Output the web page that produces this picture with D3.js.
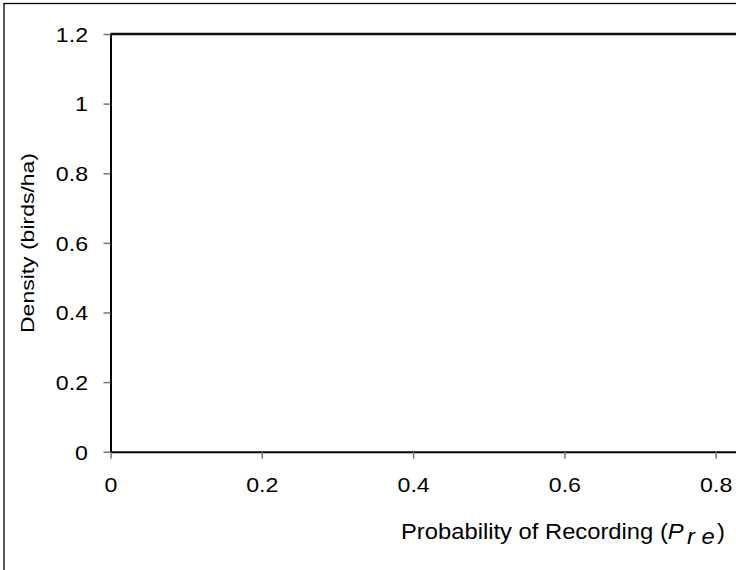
<!DOCTYPE html>
<html>
<head>
<meta charset="utf-8">
<script src="https://cdn.jsdelivr.net/npm/d3@7"></script>
<style>
  body { margin: 0; background: #fff; }
  text { font-family: "Liberation Sans", Arial, sans-serif; fill: #000; }
</style>
</head>
<body>
<div id="chart"></div>
<script>
// axis values (no plotted series are visible)
const xDomain = [0, 1];
const yDomain = [0, 1.2];
const xTicks = [0, 0.2, 0.4, 0.6, 0.8, 1];
const yTicks = [0, 0.2, 0.4, 0.6, 0.8, 1, 1.2];
const xTitle = "Probability of Recording (";
const yTitle = "Density (birds/ha)";

const W = 736, H = 570;
const margin = { top: 34, left: 110.5, bottom: 118.3 };
const height = H - margin.top - margin.bottom;
const width = 756.5;
const stretch = 1.13; // the reference text is drawn a bit wide

const svg = d3.select("#chart").append("svg")
    .attr("width", W)
    .attr("height", H);

// outer frame (right and bottom edges fall outside the picture)
svg.append("rect")
    .attr("x", 4).attr("y", 3.5)
    .attr("width", W + 20).attr("height", H + 20)
    .style("fill", "none")
    .style("stroke", "#000")
    .style("stroke-width", 1.3);

const g = svg.append("g")
    .attr("transform", "translate(" + margin.left + "," + margin.top + ")");

// scales
const x = d3.scaleLinear().domain(xDomain).range([0, width]);
const y = d3.scaleLinear().domain(yDomain).range([height, 0]);

// top border of the plot at 1.2
g.append("line")
    .attr("x1", x(0)).attr("x2", x(1))
    .attr("y1", y(1.2)).attr("y2", y(1.2))
    .style("stroke", "#111")
    .style("stroke-width", 2.5);

// axes
const xAxis = d3.axisBottom(x).tickValues(xTicks).tickSize(7).tickSizeOuter(0)
    .tickFormat(d => d3.format("")(d));
const yAxis = d3.axisLeft(y).tickValues(yTicks).tickSize(7).tickSizeOuter(0)
    .tickFormat(d => d3.format("")(d));

const gx = g.append("g")
    .attr("class", "x-axis")
    .attr("transform", `translate(0, ${height})`)
    .call(xAxis);

const gy = g.append("g")
    .attr("class", "y-axis")
    .call(yAxis);

[gx, gy].forEach(a => {
    a.select(".domain").style("stroke", "#000").style("stroke-width", 2);
    a.selectAll(".tick line").style("stroke", "#777").style("stroke-width", 1.5);
    a.selectAll(".tick text")
        .style("font-family", "'Liberation Sans', Arial, sans-serif")
        .style("font-size", "20.5px")
        .style("fill", "#000")
        .attr("transform", `scale(${stretch},1)`);
});

gx.selectAll(".tick text").attr("y", 40).attr("dy", 0);
gy.selectAll(".tick text").attr("x", -22.5 / stretch).attr("dy", "0.36em");

// x title
const xt = svg.append("text")
    .attr("x", 0)
    .attr("y", 0)
    .style("font-size", "21.5px");
xt.append("tspan").text(xTitle);
xt.append("tspan").style("font-style", "italic").text("P");
xt.append("tspan").style("font-style", "italic")
    .attr("dy", 5).attr("dx", 3).text("r e");
xt.append("tspan").attr("dy", -5).attr("dx", 2).text(")");
const xLen = xt.node().getBBox().width;
xt.attr("transform", `translate(401,538.5) scale(${324 / xLen},1)`);

// y title
const yt = svg.append("text")
    .attr("text-anchor", "middle")
    .style("font-size", "18.5px")
    .text(yTitle);
const yLen = yt.node().getComputedTextLength();
yt.attr("transform", `translate(34,243) rotate(-90) scale(${180 / yLen},1)`);
</script>
</body>
</html>
